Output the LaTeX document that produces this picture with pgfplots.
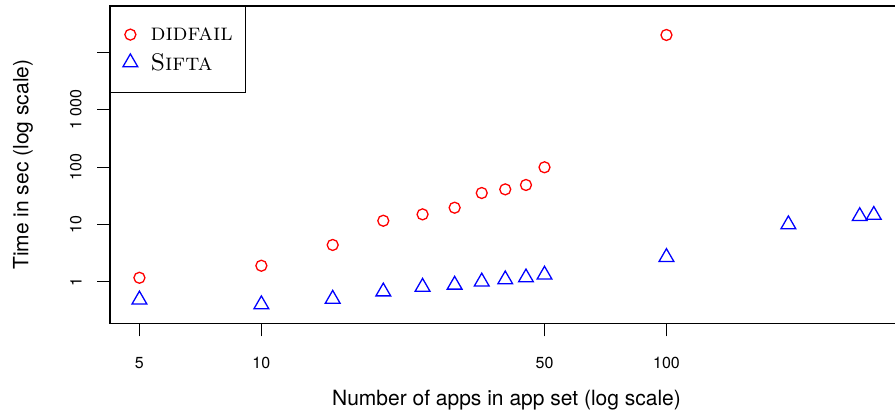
\documentclass[border=0pt]{standalone}
\usepackage{fontspec}
\setsansfont{TeX Gyre Heros}
\usepackage{pgfplots}
\pgfplotsset{compat=1.18}
\pgfplotsset{mylegimg/.style={legend image code/.code={\draw[##1] plot coordinates {(0pt,0pt)};}}}
\begin{document}
\begin{tikzpicture}
\begin{axis}[
  at={(110pt,90.7pt)}, anchor=south west,
  scale only axis, width=793pt, height=317.3pt,
  xmode=log, ymode=log,
  xmin=4.23, xmax=383.7, ymin=0.1875, ymax=65460,
  axis line style={line width=1.2pt},
  tick align=outside, major tick length=13pt,
  tick style={black, line width=1pt},
  tick pos=left,
  xtick={5,10,50,100}, xticklabels={5,10,50,100},
  ytick={1,10,100,1000,10000}, yticklabels={1,10,100,1\ 000,{}},
  xminorticks=false, yminorticks=false,
  ticklabel style={font=\fontsize{16}{16}\selectfont\sffamily, inner sep=0pt},
  xticklabel style={anchor=north},
  yticklabel style={rotate=90, anchor=south},
  xticklabel shift=20.7pt, yticklabel shift=15.3pt,
  xlabel={Number of apps in app set (log scale)},
  ylabel={Time in sec (log scale)},
  label style={font=\fontsize{21}{21}\selectfont\sffamily, inner sep=0pt},
  xlabel style={at={([yshift=-82.7pt]axis description cs:0.5,0)}, anchor=base},
  ylabel style={at={([xshift=-81.7pt]axis description cs:0,0.5)}, anchor=base},
  legend style={at={(0,1)}, anchor=north west, draw=black, line width=1pt,
    inner xsep=12.5pt, inner ysep=21pt, row sep=11.5pt, column sep=12.8pt,
    font=\fontsize{24}{24}\selectfont, nodes={inner sep=0pt}},
  legend cell align=left,
]
\addplot[only marks, mark=o, mark size=5.5pt, red, line width=1.3pt, mylegimg]
  coordinates {(5,1.17) (10,1.90) (15,4.38) (20,11.6) (25,15.0) (30,19.6) (35,35.4) (40,41) (45,48.9) (50,99.6) (100,20400)};
\addlegendentry{\textsc{didfail}}
\addplot[only marks, mark=triangle, mark size=8.5pt, blue, line width=1.3pt, mylegimg]
  coordinates {(5,0.485) (10,0.40) (15,0.50) (20,0.67) (25,0.81) (30,0.88) (35,1.0) (40,1.09) (45,1.18) (50,1.32) (100,2.68) (200,10.0) (300,13.9) (325,14.6)};
\addlegendentry{\textsc{Sifta}}
\end{axis}
\pgfresetboundingbox
\path[use as bounding box] (0,0) rectangle (895pt,414pt);
\end{tikzpicture}
\end{document}
